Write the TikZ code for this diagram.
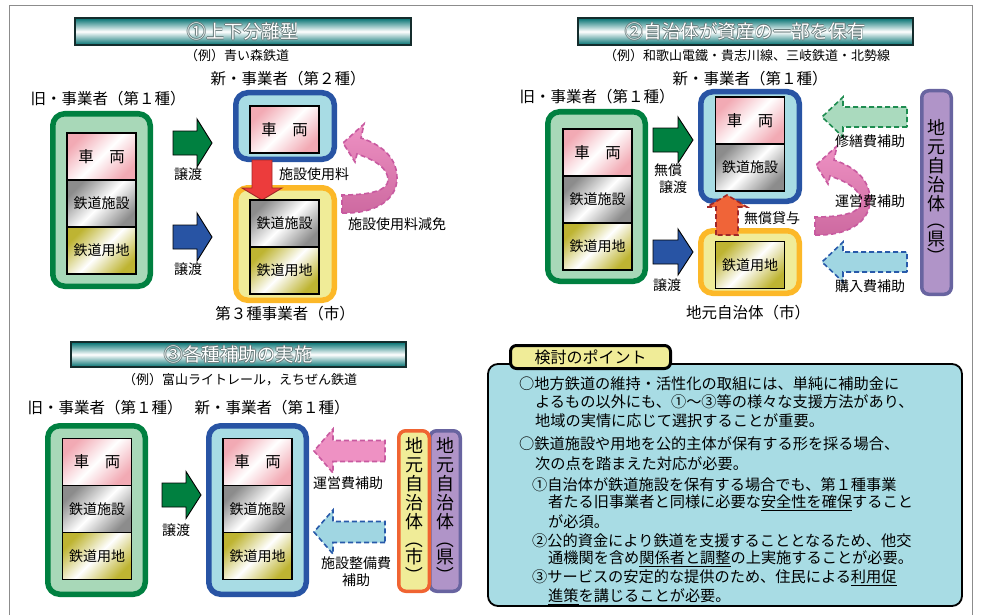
\documentclass[tikz,border=0pt]{standalone}
\usepackage{fontspec}
\setmainfont{Noto Sans CJK JP}
\usepackage{graphicx}
\usetikzlibrary{positioning}

\definecolor{grnline}{RGB}{0,128,64}
\definecolor{grnfill}{RGB}{168,216,184}
\definecolor{bluline}{RGB}{40,84,164}
\definecolor{blufill}{RGB}{168,220,228}
\definecolor{yelline}{RGB}{252,184,40}
\definecolor{yelfill}{RGB}{240,236,152}
\definecolor{purline}{RGB}{104,100,160}
\definecolor{purfill}{RGB}{176,148,200}
\definecolor{orgline}{RGB}{240,100,50}
\definecolor{barteal}{RGB}{0,112,112}
\definecolor{bardark}{RGB}{20,44,44}
\definecolor{outl}{RGB}{100,120,120}
\definecolor{pinkcell}{RGB}{242,170,180}
\definecolor{graycell}{RGB}{140,140,140}
\definecolor{olivecell}{RGB}{190,180,50}
\definecolor{pinkarr}{RGB}{238,145,195}
\definecolor{pinkdark}{RGB}{205,105,160}
\definecolor{pinkedge}{RGB}{200,90,160}
\definecolor{redarr}{RGB}{236,60,60}
\definecolor{orgarr}{RGB}{240,100,56}
\definecolor{dkred}{RGB}{160,40,40}
\definecolor{ltgrn}{RGB}{170,218,190}
\definecolor{dkgrn}{RGB}{30,140,80}
\definecolor{ltblu}{RGB}{160,214,226}
\definecolor{dkblu}{RGB}{40,90,170}
\definecolor{ptfill}{RGB}{168,220,228}

\newcommand\fttl{\fontsize{18.5}{20}\selectfont}
\newcommand\fhd{\fontsize{15.5}{18}\selectfont}
\newcommand\fex{\fontsize{13}{15}\selectfont}
\newcommand\flb{\fontsize{14}{17}\selectfont}
\newcommand\fpt{\fontsize{15.2}{18}\selectfont}
\newcommand\fvt{\fontsize{18}{19}\selectfont}
% white letters with a grey edge
\newcommand\hollow[1]{\leavevmode
  \rlap{\color{outl}\hspace*{-.6pt}#1}%
  \rlap{\color{outl}\hspace*{.6pt}#1}%
  \rlap{\color{outl}\raisebox{.6pt}{#1}}%
  \rlap{\color{outl}\raisebox{-.6pt}{#1}}%
  {\color{white}#1}}
% upright column
\newcommand\tate[1]{地\\元\\自\\治\\体\\[-2pt]\rotatebox[origin=c]{-90}{（}\\[-1pt]#1\\[-1pt]\rotatebox[origin=c]{-90}{）}}

\tikzset{
  grnframe/.style={draw=grnline, fill=grnfill, line width=5.5pt, rounded corners=12pt, inner sep=0pt},
  bluframe/.style={grnframe, draw=bluline, fill=blufill},
  yelframe/.style={grnframe, draw=yelline, fill=yelfill},
  purframe/.style={draw=purline, fill=purfill, line width=3.5pt, rounded corners=7pt, inner sep=0pt, font=\fvt, align=center},
  cityframe/.style={purframe, draw=orgline, fill=yelfill},
  cell/.style={draw, line width=1.2pt, minimum width=69pt, minimum height=47pt, inner sep=0pt, outer sep=0pt, font=\flb},
  carcell/.style={cell, font=\fhd, top color=pinkcell, bottom color=pinkcell, middle color=white, shading angle=45},
  faccell/.style={cell, top color=graycell, bottom color=graycell, middle color=white, shading angle=45},
  landcell/.style={cell, top color=olivecell, bottom color=olivecell, middle color=white, shading angle=45},
  titlebar/.style={draw=bardark, line width=1.8pt, top color=barteal, bottom color=barteal, middle color=white, font=\fttl, inner sep=0pt},
  hd/.style={font=\fhd, inner sep=0pt},
  exline/.style={font=\fex, inner sep=0pt},
  lbl/.style={font=\flb, inner sep=0pt, align=center},
  ptline/.style={font=\fpt, inner sep=0pt, anchor=west},
  solidarr/.style={draw=black, line width=0.9pt, fill=#1},
  dasharr/.style 2 args={draw=#1, fill=#2, line width=1.6pt, dash pattern=on 5pt off 3pt},
  pics/barr/.style args={#1/#2/#3/#4}{code={
    \path[pic actions] (0,-#2) -- ({#1-#4},-#2) -- ({#1-#4},-#3) -- (#1,0)
      -- ({#1-#4},#3) -- ({#1-#4},#2) -- (0,#2) -- cycle;
  }},
  pics/uturn/.style={code={
    \path[draw=pinkedge, line width=1.6pt, dash pattern=on 5pt off 3pt, top color=pinkarr, bottom color=pinkdark]
      (0,9) .. controls (33,10) and (55,-4) .. (55,-26)
      .. controls (55,-44) and (43,-58) .. (19,-66)
      -- (22,-80) -- (1,-61) -- (13,-42) -- (15,-50)
      .. controls (33,-44) and (46,-36) .. (46,-24)
      .. controls (46,-14) and (30,-9) .. (0,-9) -- cycle;
  }}
}

\begin{document}
\begin{tikzpicture}[x=1pt, y=-1pt]
\useasboundingbox (0,0) rectangle (981,615);
\draw[black!45, line width=1pt] (9,615) -- (9,6) -- (972,6) -- (972,615);

% (1)
\node[titlebar, minimum width=336pt, minimum height=27pt] (ttl1) at (243,31.5) {\hollow{①上下分離型}};
\node[exline] (ex1) at (237,56) {（例）青い森鉄道};
\node[hd] (newhd1) at (288,79) {新・事業者（第２種）};
\node[hd] (oldhd1) at (108,99) {旧・事業者（第１種）};
\node[grnframe, minimum width=97.5pt, minimum height=172.5pt] (old1) at (101.5,200) {};
\node[bluframe, minimum width=98.5pt, minimum height=66.5pt] (new1) at (285,126) {};
\node[yelframe, minimum width=98.5pt, minimum height=112.5pt] (city1) at (285,244) {};
\pic[solidarr=redarr, draw=dkred, rotate=-90] at (262,160) {barr=40/10/20/12};
\node[carcell] (oldcar1) at (101.5,156.5) {車　両};
\node[faccell, below=0pt of oldcar1] (oldfac1) {鉄道施設};
\node[landcell, below=0pt of oldfac1] (oldland1) {鉄道用地};
\node[carcell] (newcar1) at (284.5,129.5) {車　両};
\node[faccell] (cityfac1) at (284.5,223.5) {鉄道施設};
\node[landcell, below=0pt of cityfac1] (cityland1) {鉄道用地};
\pic[solidarr=grnline] at (173,143) {barr=39/12/24/15};
\pic[solidarr=bluline] at (173,237) {barr=39/12/24/15};
\node[lbl] (tr1a) at (188,174) {譲渡};
\node[lbl] (tr1b) at (188,269) {譲渡};
\node[lbl] (fee1) at (314,174) {施設使用料};
\pic at (342,204) {uturn};
\node[lbl] (cut1) at (397,224) {施設使用料減免};
\node[hd] (cityhd1) at (285,314) {第３種事業者（市）};

% (2)
\node[titlebar, minimum width=335pt, minimum height=27pt] (ttl2) at (745.5,31.5) {\hollow{②自治体が資産の一部を保有}};
\node[exline] (ex2) at (747,56) {（例）和歌山電鐵・貴志川線、三岐鉄道・北勢線};
\node[hd] (newhd2) at (750,79) {新・事業者（第１種）};
\node[hd] (oldhd2) at (597,97) {旧・事業者（第１種）};
\node[grnframe, minimum width=97.5pt, minimum height=169.5pt] (old2) at (596.5,196.5) {};
\node[bluframe, minimum width=98.5pt, minimum height=109.5pt] (new2) at (750,146.5) {};
\node[yelframe, minimum width=98.5pt, minimum height=62.5pt] (city2) at (750,262) {};
\node[purframe, minimum width=29.5pt, minimum height=203.5pt] (pref2) at (936.5,192.5) {\tate{県}};
\pic[dasharr={dkred}{orgarr}, rotate=90] at (727,235) {barr=40/11/20/12};
\node[carcell] (oldcar2) at (597.5,152.5) {車　両};
\node[faccell, below=0pt of oldcar2] (oldfac2) {鉄道施設};
\node[landcell, below=0pt of oldfac2] (oldland2) {鉄道用地};
\node[carcell] (newcar2) at (750,120.5) {車　両};
\node[faccell, below=0pt of newcar2] (newfac2) {鉄道施設};
\node[landcell] (cityland2) at (750,265) {鉄道用地};
\pic[solidarr=grnline] at (653,140) {barr=40/12/23/15};
\pic[solidarr=bluline] at (653,252) {barr=40/12/23/15};
\node[lbl, align=left, anchor=west] (tr2a) at (654,179) {無償\\\hspace*{5pt}譲渡};
\node[lbl] (tr2b) at (667,285) {譲渡};
\node[lbl] (lend2) at (772,218) {無償貸与};
\node[hd] (cityhd2) at (748,313) {地元自治体（市）};
\pic[dasharr={dkgrn}{ltgrn}, rotate=180] at (907,117) {barr=85/10/20/21};
\pic[dasharr={dkblu}{ltblu}, rotate=180] at (907,262) {barr=85/10/20/21};
\pic at (815,226) {uturn};
\node[lbl] (rep2) at (870,141) {修繕費補助};
\node[lbl] (ops2) at (870,201) {運営費補助};
\node[lbl] (buy2) at (870,286) {購入費補助};

% (3)
\node[titlebar, minimum width=335pt, minimum height=25pt] (ttl3) at (238.5,354.5) {\hollow{③各種補助の実施}};
\node[exline] (ex3) at (240,380) {（例）富山ライトレール，えちぜん鉄道};
\node[hd] (oldhd3) at (105,408) {旧・事業者（第１種）};
\node[hd] (newhd3) at (272,408) {新・事業者（第１種）};
\node[grnframe, minimum width=97.5pt, minimum height=168.5pt] (old3) at (96.5,510) {};
\node[bluframe, minimum width=97.5pt, minimum height=168.5pt] (new3) at (257.5,510) {};
\node[purframe, minimum width=30.5pt, minimum height=160.5pt] (pref3) at (445,511) {\tate{県}};
\node[cityframe, minimum width=30.5pt, minimum height=160.5pt] (city3) at (414,511) {\tate{市}};
\node[carcell] (oldcar3) at (97,462) {車　両};
\node[faccell, below=0pt of oldcar3] (oldfac3) {鉄道施設};
\node[landcell, below=0pt of oldfac3] (oldland3) {鉄道用地};
\node[carcell] (newcar3) at (257.5,462) {車　両};
\node[faccell, below=0pt of newcar3] (newfac3) {鉄道施設};
\node[landcell, below=0pt of newfac3] (newland3) {鉄道用地};
\pic[solidarr=grnline] at (162,495) {barr=39/12/23.5/15};
\node[lbl] (tr3) at (176,530) {譲渡};
\pic[dasharr={pinkedge}{pinkarr}, rotate=180] at (385,451) {barr=71/10.5/22/19};
\pic[dasharr={dkblu}{ltblu}, rotate=180] at (385,532) {barr=71/10.5/22/19};
\node[lbl] (ops3) at (348,483) {運営費補助};
\node[lbl] (dev3) at (356,571.5) {施設整備費\\補助};

% points
\node[draw=black, line width=1.8pt, fill=ptfill, rounded corners=10pt, minimum width=474pt, minimum height=242pt] (ptbox) at (725,485) {};
\node[draw=black, line width=3pt, fill=yelfill, rounded corners=6pt, minimum width=160pt, minimum height=23pt, font=\fontsize{16}{18}\selectfont] (pttab) at (590.5,357) {検討のポイント};
\node[ptline] (pt1) at (519,384) {○地方鉄道の維持・活性化の取組には、単純に補助金に};
\node[ptline] (pt2) at (535,402) {よるもの以外にも、①～③等の様々な支援方法があり、};
\node[ptline] (pt3) at (535,421) {地域の実情に応じて選択することが重要。};
\node[ptline] (pt4) at (519,444) {○鉄道施設や用地を公的主体が保有する形を採る場合、};
\node[ptline] (pt5) at (535,464) {次の点を踏まえた対応が必要。};
\node[ptline] (pt6) at (532,485) {①自治体が鉄道施設を保有する場合でも、第１種事業};
\node[ptline] (pt7) at (548,503) {者たる旧事業者と同様に必要な\underline{安全性を確保}すること};
\node[ptline] (pt8) at (548,522) {が必須。};
\node[ptline] (pt9) at (532,541) {②公的資金により鉄道を支援することとなるため、他交};
\node[ptline] (pt10) at (548,559) {通機関を含め\underline{関係者と調整}の上実施することが必要。};
\node[ptline] (pt11) at (532,578) {③サービスの安定的な提供のため、住民による\underline{利用促}};
\node[ptline] (pt12) at (548,597) {\underline{進策}を講じることが必要。};
\end{tikzpicture}
\end{document}
